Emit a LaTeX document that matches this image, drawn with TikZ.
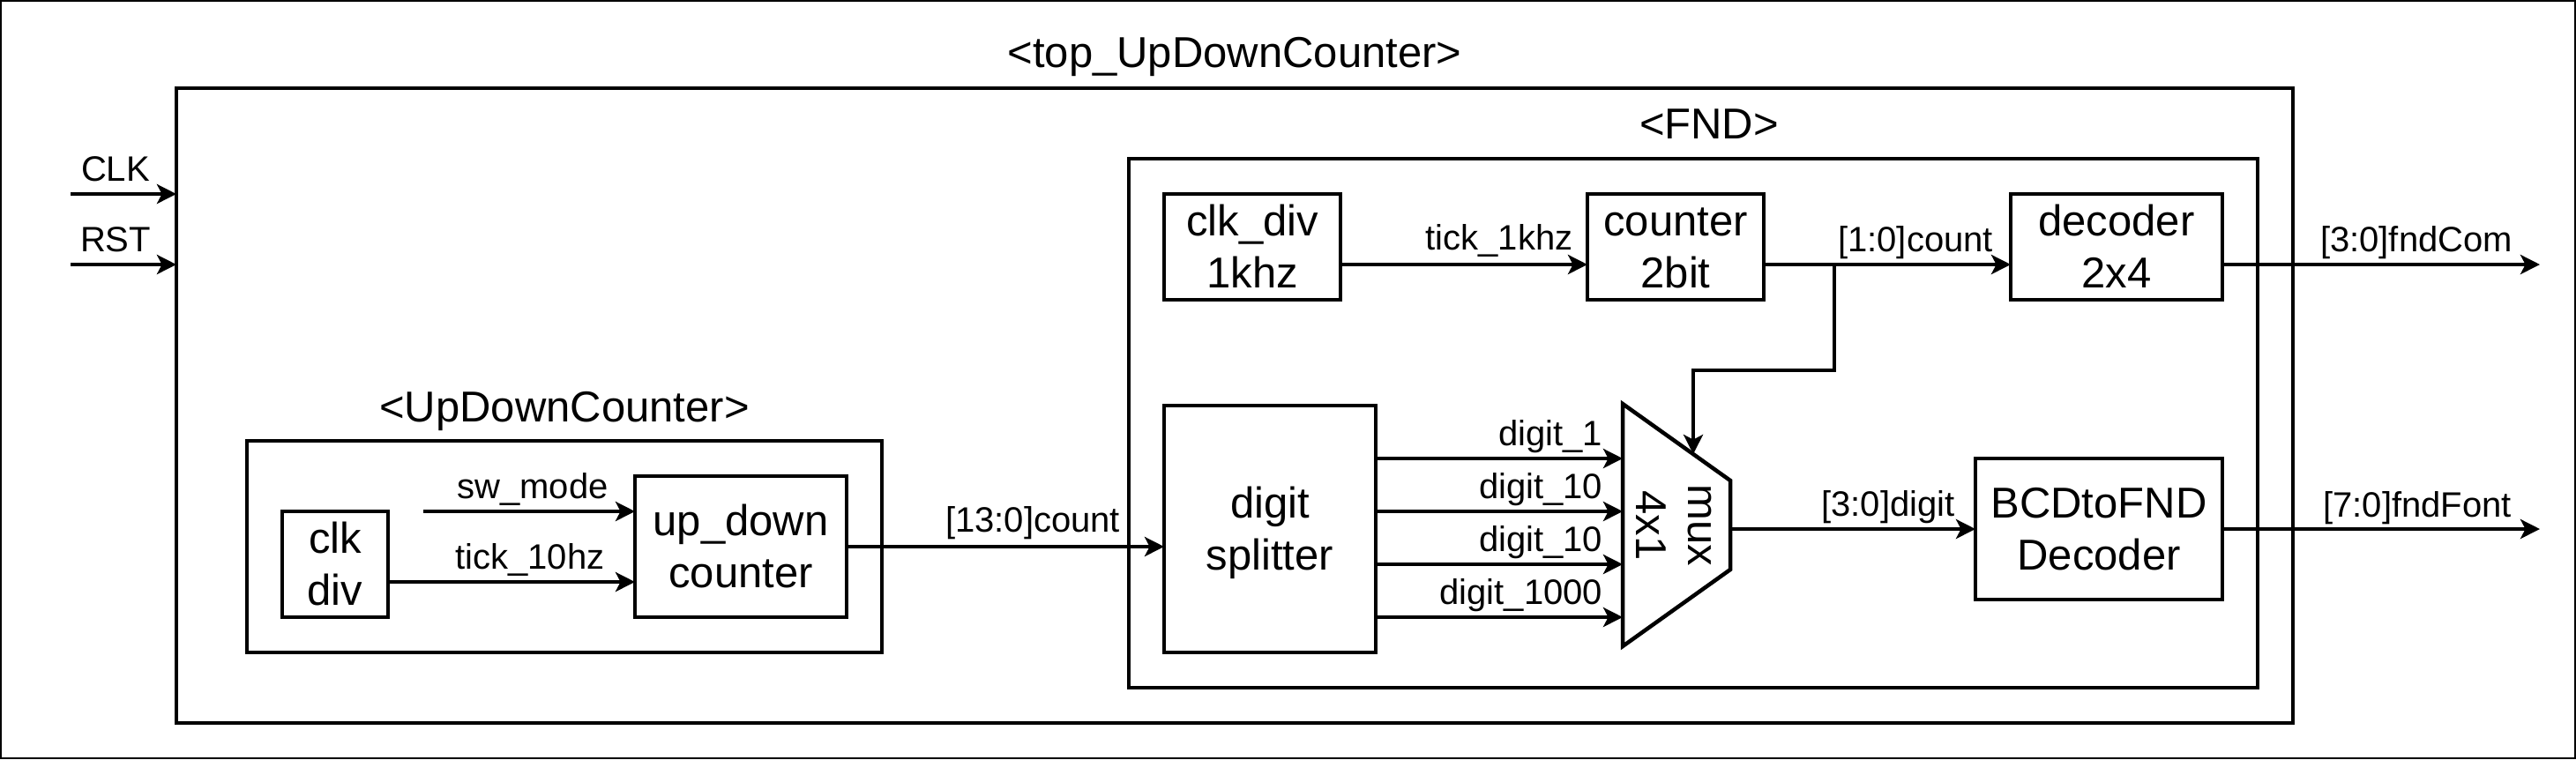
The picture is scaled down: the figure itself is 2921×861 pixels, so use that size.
\documentclass[tikz,border=0pt]{standalone}
\usepackage{fontspec}
\setmainfont{Liberation Sans}
\usetikzlibrary{arrows.meta}
\newcommand\bfnt{\fontsize{12.25pt}{14.7pt}\selectfont}
\newcommand\lfnt{\fontsize{10pt}{12pt}\selectfont}
\newcommand\stt{\rule[-0.212em]{0pt}{1.117em}}
\begin{document}
\begin{tikzpicture}[x=0.25pt,y=-0.25pt,
  blk/.style={draw, line width=1.125pt, inner sep=0pt, outer sep=0pt, align=center, font=\bfnt},
  lbl/.style={font=\lfnt, inner sep=0pt, anchor=base},
  ttl/.style={font=\bfnt, inner sep=0pt, anchor=base},
  wire/.style={line width=1.125pt, -{Stealth[length=5.5pt,width=5.5pt,inset=1.4pt]}},
  plain/.style={line width=1.125pt, line join=miter}]
\useasboundingbox (0,0) rectangle (2921,861);
\draw[line width=0.5pt] (1,1) rectangle (2920,860);

% containers
\node[blk, minimum width=600pt, minimum height=180pt] (top) at (1400,460) {};
\node[blk, minimum width=320pt, minimum height=150pt] (fnd) at (1920,480) {};
\node[blk, minimum width=180pt, minimum height=60pt] (udc) at (640,620) {};
\node[ttl] (ttop) at (1400,76) {<top\_UpDownCounter>};
\node[ttl] (tfnd) at (1938,157) {<FND>};
\node[ttl] (tudc) at (640,478) {<UpDownCounter>};

% blocks
\node[blk, minimum width=30pt, minimum height=30pt] (clkd) at (380,640) {\stt clk\\\stt div};
\node[blk, minimum width=60pt, minimum height=40pt] (updn) at (840,620) {\stt up\_down\\\stt counter};
\node[blk, minimum width=50pt, minimum height=30pt] (clk1k) at (1420,280) {\stt clk\_div\\\stt 1khz};
\node[blk, minimum width=50pt, minimum height=30pt] (cnt) at (1900,280) {\stt counter\\\stt 2bit};
\node[blk, minimum width=60pt, minimum height=30pt] (dec) at (2400,280) {\stt decoder\\\stt 2x4};
\node[blk, minimum width=60pt, minimum height=70pt] (split) at (1440,600) {\stt digit\\\stt splitter};
\node[blk, minimum width=70pt, minimum height=40pt] (bcd) at (2380,600) {\stt BCDtoFND\\\stt Decoder};

% mux
\draw[plain] (1840,458) -- (1962,545) -- (1962,646) -- (1840,733) -- cycle;
\node[font=\bfnt, rotate=-90, align=center, inner sep=0pt] (muxt) at (1902,596) {\stt mux\\\stt 4x1};
\coordinate (mx1) at (1840,520);
\coordinate (mx2) at (1840,580);
\coordinate (mx3) at (1840,640);
\coordinate (mx4) at (1840,700);
\coordinate (mxsel) at (1920,515);
\coordinate (mxout) at (1962,600);

% free ends
\coordinate (clkin) at (80,220);
\coordinate (rstin) at (80,300);
\coordinate (swin) at (480,580);
\coordinate (br) at (2080,300);
\coordinate (fndcom) at (2880,300);
\coordinate (fndfont) at (2880,600);

% wires
\draw[wire] (clkin) -- ([yshift=60pt]top.west);
\draw[wire] (rstin) -- ([yshift=40pt]top.west);
\draw[wire] (swin) -- ([yshift=10pt]updn.west);
\draw[wire] ([yshift=-5pt]clkd.east) -- ([yshift=-10pt]updn.west);
\draw[wire] (updn.east) -- ([yshift=-5pt]split.west);
\draw[wire] ([yshift=-5pt]clk1k.east) -- ([yshift=-5pt]cnt.west);
\draw[wire] ([yshift=-5pt]cnt.east) -- ([yshift=-5pt]dec.west);
\draw[wire] (br) -- ++(0,120) -| (mxsel);
\draw[wire] ([yshift=-5pt]dec.east) -- (fndcom);
\draw[wire] (bcd.east) -- (fndfont);
\draw[wire] (mxout) -- (bcd.west);
\draw[wire] ([yshift=20pt]split.east) -- (mx1);
\draw[wire] ([yshift=5pt]split.east) -- (mx2);
\draw[wire] ([yshift=-10pt]split.east) -- (mx3);
\draw[wire] ([yshift=-25pt]split.east) -- (mx4);

% labels
\node[lbl] (lclk) at (131,205) {CLK};
\node[lbl] (lrst) at (131,285) {RST};
\node[lbl] (lsw) at (604,565) {sw\_mode};
\node[lbl] (lt10) at (601,645) {tick\_10hz};
\node[lbl] (lc13) at (1171,603) {[13:0]count};
\node[lbl] (lt1k) at (1700,283) {tick\_1khz};
\node[lbl] (lc1) at (2172,285) {[1:0]count};
\node[lbl] (lcom) at (2740,285) {[3:0]fndCom};
\node[lbl] (lfont) at (2741,586) {[7:0]fndFont};
\node[lbl] (ldig) at (2141,585) {[3:0]digit};
\node[lbl, anchor=base east] (ld1) at (1818,505) {digit\_1};
\node[lbl, anchor=base east] (ld2) at (1818,565) {digit\_10};
\node[lbl, anchor=base east] (ld3) at (1818,625) {digit\_10};
\node[lbl, anchor=base east] (ld4) at (1818,685) {digit\_1000};
\end{tikzpicture}
\end{document}
